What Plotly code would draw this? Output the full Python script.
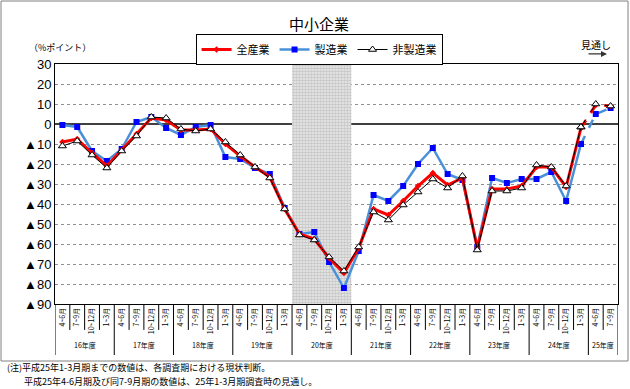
import plotly.graph_objects as go

# ---- data ----
years = ["16年度", "17年度", "18年度", "19年度", "20年度", "21年度", "22年度", "23年度", "24年度", "25年度"]
quarters = ["4~6月", "7~9月", "10~12月", "1~3月"]
n_points = 38
period_labels = [quarters[i % 4] for i in range(n_points)]

all_ind = [-9, -7.5, -14.5, -21, -13, -5, 3, 2, -3, -3, -2.5, -10, -16, -21.5, -26.5, -42.5,
           -55, -57.5, -67, -74.5, -62, -42.5, -45.5, -38.5, -31, -24.5, -30.5, -27, -62,
           -32.5, -32.5, -31, -21.5, -21.5, -31.5, -2, 9.5, 9]
mfg = [-0.5, -1.5, -13.5, -18.5, -12.5, 1, 3.5, -2, -5.5, -1.5, -0.5, -16.5, -17.5, -22, -25, -42,
       -55, -54, -69, -82, -63.5, -35.5, -38.5, -31, -20, -12, -25, -28, -61.5,
       -27, -29.5, -27.5, -27.5, -24, -38.5, -10, 5, 8]
nonmfg = [-11, -8.5, -15.5, -22, -13.5, -6, 3.5, 3, -2.5, -3.5, -2.5, -9, -15.5, -21.5, -27, -42.5,
          -55.5, -58, -66.5, -73.5, -61.5, -44, -48, -40.5, -34, -27.5, -32, -26, -63,
          -33.5, -33.5, -32, -20.5, -21.5, -31, -1.5, 10, 9]
forecast_start = 35  # index where forecast (dashed) begins
shade_start, shade_end = 16, 19  # shaded period indices
y_ticks = [30, 20, 10, 0, -10, -20, -30, -40, -50, -60, -70, -80, -90]
y_ticktext = [str(v) if v >= 0 else "▲" + str(-v) for v in y_ticks]

x = list(range(n_points))
JP = "Noto Sans CJK JP"

fig = go.Figure()

# shaded period
fig.add_trace(go.Bar(
    x=[(shade_start + shade_end) / 2], y=[120], base=[-90], width=[shade_end - shade_start + 1],
    marker=dict(color="#ececec", line=dict(width=0),
                pattern=dict(shape=".", fgcolor="#a0a0a0", size=3, solidity=0.6)),
    showlegend=False, hoverinfo="skip"))

fs = forecast_start
series = [
    ("製造業", mfg, dict(color="#4a90d9", width=2.5), dict(symbol="square", size=6, color="#0000ff"), 2),
    ("全産業", all_ind, dict(color="#ff0000", width=3), dict(symbol="diamond", size=5, color="#ff0000"), 1),
    ("非製造業", nonmfg, dict(color="#000000", width=1),
     dict(symbol="triangle-up", size=7, color="#ffffff", line=dict(color="#000000", width=1)), 3),
]
for name, vals, line, marker, rank in series:
    fig.add_trace(go.Scatter(x=x[:fs + 1], y=vals[:fs + 1], name=name, mode="lines+markers",
                             line=line, marker=marker, legendrank=rank))
    dl = dict(line)
    dl["dash"] = "dash"
    fig.add_trace(go.Scatter(x=x[fs:], y=vals[fs:], mode="lines+markers", line=dl,
                             marker=marker, showlegend=False))

shapes = []
# category separators below the axis
for i in range(n_points + 1):
    is_year = (i % 4 == 0) or i == n_points
    shapes.append(dict(type="line", xref="x", yref="paper", x0=i - 0.5, x1=i - 0.5,
                       y0=0, y1=-0.2125 if is_year else -0.108,
                       line=dict(color="#000000", width=1)))
# outer border
shapes.append(dict(type="rect", xref="paper", yref="paper", x0=-0.0959, x1=1.0178,
                   y0=-0.2375, y1=1.2625, line=dict(color="#808080", width=1)))

annotations = []
for k, yname in enumerate(years):
    first = 4 * k
    last = min(4 * k + 3, n_points - 1)
    annotations.append(dict(x=(first + last) / 2, y=-0.171, xref="x", yref="paper",
                            xanchor="center", yanchor="middle",
                            text=yname, showarrow=False, font=dict(family=JP, size=7, color="#000")))
annotations += [
    dict(x=0.469, y=1.167, xref="paper", yref="paper", xanchor="center", yanchor="middle",
         text="中小企業", showarrow=False, font=dict(family=JP, size=15, color="#000")),
    dict(x=0.009, y=1.067, xref="paper", yref="paper", xanchor="center", yanchor="middle",
         text="（%ポイント）", showarrow=False, font=dict(family=JP, size=9, color="#000")),
    dict(x=0.961, y=1.083, xref="paper", yref="paper", xanchor="center", yanchor="middle",
         text="見通し", showarrow=False, font=dict(family=JP, size=10, color="#000")),
    dict(x=0.9805, y=1.042, xref="paper", yref="paper", ax=-20, ay=0, text="", showarrow=True,
         arrowhead=2, arrowsize=1, arrowwidth=1.2, arrowcolor="#333"),
    dict(x=-0.089, y=-0.2625, xref="paper", yref="paper", xanchor="left", yanchor="middle",
         text="(注)平成25年1-3月期までの数値は、各調査期における現状判断。", showarrow=False,
         font=dict(family=JP, size=9, color="#000")),
    dict(x=-0.059, y=-0.3229, xref="paper", yref="paper", xanchor="left", yanchor="middle",
         text="平成25年4-6月期及び同7-9月期の数値は、25年1-3月期調査時の見通し。", showarrow=False,
         font=dict(family=JP, size=9, color="#000")),
]

fig.update_layout(
    width=630, height=389,
    margin=dict(l=55, r=12, t=64, b=85, autoexpand=False),
    paper_bgcolor="white", plot_bgcolor="white",
    font=dict(family=JP, color="#000"),
    showlegend=True,
    legend=dict(orientation="h", x=0.469, xanchor="center", y=1.125, yanchor="top",
                bordercolor="#000", borderwidth=1, bgcolor="white",
                font=dict(family=JP, size=11), itemwidth=30, tracegroupgap=0),
    xaxis=dict(range=[-0.5, n_points - 0.5], tickvals=x, ticktext=period_labels,
               tickangle=-90, tickfont=dict(family=JP, size=7), ticks="",
               showgrid=False, zeroline=False, showline=True, linecolor="#000", mirror=True,
               fixedrange=True, automargin=False),
    xaxis2=dict(overlaying="x", anchor="free", position=0.75, range=[-0.5, n_points - 0.5],
                tickvals=[i + 0.5 for i in range(n_points - 1)], ticks="outside", ticklen=3,
                tickcolor="#404040", showticklabels=False, showgrid=False, zeroline=False,
                showline=False),
    yaxis=dict(range=[-90, 30], tickvals=y_ticks, ticktext=y_ticktext,
               tickfont=dict(family="Liberation Sans", size=13), showgrid=True,
               gridcolor="#909090", griddash="dot", zeroline=True, zerolinecolor="#404040",
               zerolinewidth=1.5, showline=True, linecolor="#000", mirror=True, ticks="",
               automargin=False),
    shapes=shapes, annotations=annotations,
    barmode="overlay", hovermode=False,
)

fig.write_html("out.html", config={"displayModeBar": False},
               post_script="document.body.style.margin='0px';")
